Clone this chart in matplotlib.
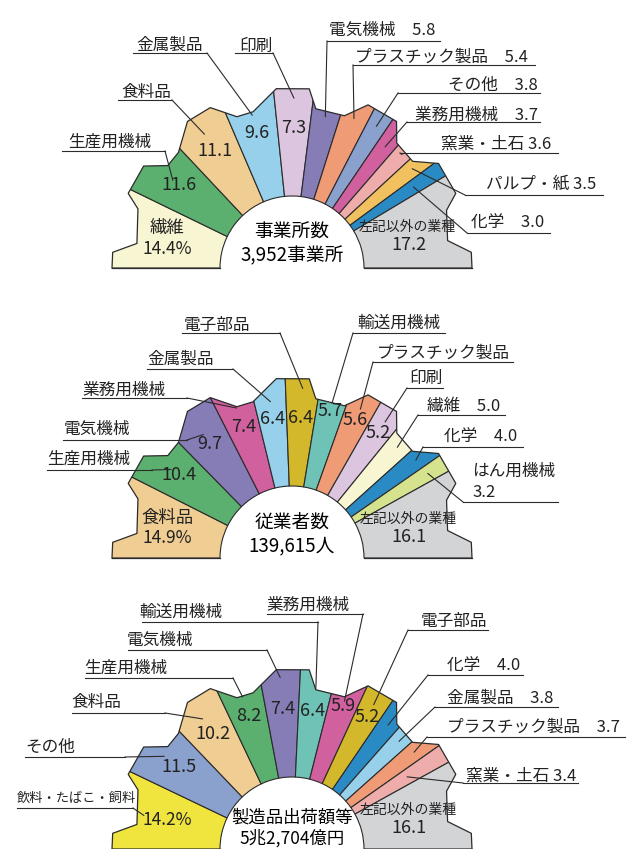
import numpy as np
import matplotlib
matplotlib.use('Agg')
import matplotlib.pyplot as plt
from matplotlib.patches import Wedge, Polygon

plt.rcParams['font.family'] = ['Noto Sans CJK JP', 'DejaVu Sans']

# --- data -----------------------------------------------------------------
c1_names = ['繊維', '生産用機械', '食料品', '金属製品', '印刷', '電気機械',
            'プラスチック製品', 'その他', '業務用機械', '窯業・土石',
            'パルプ・紙', '化学', '左記以外の業種']
c1_vals = [14.4, 11.6, 11.1, 9.6, 7.3, 5.8, 5.4, 3.8, 3.7, 3.6, 3.5, 3.0, 17.2]

c2_names = ['食料品', '生産用機械', '電気機械', '業務用機械', '金属製品',
            '電子部品', '輸送用機械', 'プラスチック製品', '印刷', '繊維',
            '化学', 'はん用機械', '左記以外の業種']
c2_vals = [14.9, 10.4, 9.7, 7.4, 6.4, 6.4, 5.7, 5.6, 5.2, 5.0, 4.0, 3.2, 16.1]

c3_names = ['飲料・たばこ・飼料', 'その他', '食料品', '生産用機械', '電気機械',
            '輸送用機械', '業務用機械', '電子部品', '化学', '金属製品',
            'プラスチック製品', '窯業・土石', '左記以外の業種']
c3_vals = [14.2, 11.5, 10.2, 8.2, 7.4, 6.4, 5.9, 5.2, 4.0, 3.8, 3.7, 3.4, 16.1]

c1_title = ['事業所数', '3,952事業所']
c2_title = ['従業者数', '139,615人']
c3_title = ['製造品出荷額等', '5兆2,704億円']

colors = {
    '繊維': '#f7f5d2', '生産用機械': '#5bb070', '食料品': '#f0cd92',
    '金属製品': '#96d0ea', '印刷': '#dcc5df', '電気機械': '#867cb6',
    'プラスチック製品': '#ee9b76', 'その他': '#8aa0cd', '業務用機械': '#d0609e',
    '窯業・土石': '#eeadaa', 'パルプ・紙': '#f1c160', '化学': '#2a8bc4',
    '左記以外の業種': '#d3d4d6', '電子部品': '#d4b82c', '輸送用機械': '#6ec3b6',
    'はん用機械': '#d6e38e', '飲料・たばこ・飼料': '#f0e43e',
}

# gear shaped outline (angle deg, radius px), same for all three charts
gear = [(180, 180), (175, 180), (171, 157), (159, 165), (155.5, 180),
        (145.5, 180), (140.5, 161), (134.5, 162), (125.5, 180), (117, 180),
        (110, 161), (104, 161), (95, 180), (84.5, 180), (81.5, 161),
        (71, 161), (65, 180), (54.5, 180), (50, 163), (41.5, 161),
        (35.5, 180), (24.5, 180), (20.5, 165), (10, 158), (5, 180), (0, 180)]
R_IN = 72

# label layout: (index, x, y, ha, ux0, ux1, uy, anchor r, side, sep)
c1_labels = [
    (1, 68, 142, 'left', 62, 165, 151, 148, 'L', None),
    (2, 121, 92, 'left', 118, 172, 100, 160, 'L', None),
    (3, 136, 45, 'left', 133, 207, 53, 158, 'L', None),
    (4, 239, 46, 'left', 235, 273, 53, 170, 'L', None),
    (5, 329, 30, 'left', 327, 440, 41, 155, 'R', '\u3000'),
    (6, 355, 57, 'left', 353, 535, 65, 162, 'R', '\u3000'),
    (7, 538, 85, 'right', 398, 540, 93, 165, 'R', '\u3000'),
    (8, 538, 115, 'right', 407, 540, 122, 153, 'R', '\u3000'),
    (9, 441, 144, 'left', 400, 558, 153, 158, 'R', ' '),
    (10, 486, 184, 'left', 465, 603, 195, 156, 'R', ' '),
    (11, 471, 223, 'left', 467, 550, 233, 146, 'R', '\u3000'),
]
c2_labels = [
    (5, 184, 325, 'left', 182, 280, 333, 170, 'L', None),
    (4, 147, 359, 'left', 147, 233, 369, 158, 'L', None),
    (3, 82, 390, 'left', 82, 187, 398, 160, 'L', None),
    (2, 64, 429, 'left', 63, 187, 440, 152, 'L', None),
    (1, 47, 459, 'left', 47, 152, 470, 150, 'L', None),
    (6, 357, 323, 'left', 353, 445, 333, 160, 'R', None),
    (7, 377, 353, 'left', 373, 513, 362, 164, 'R', None),
    (8, 409, 378, 'left', 407, 443, 388, 165, 'R', None),
    (9, 427, 406, 'left', 418, 505, 415, 153, 'R', '\u3000'),
    (10, 444, 437, 'left', 423, 523, 447, 158, 'R', '\u3000'),
    (11, 472, 482, 'left', 463, 558, 502, 160, 'R', '\n'),
]
c3_labels = [
    (0, 17, 798, 'left', 17, 133, 808, 152, 'L', None),
    (1, 25, 747, 'left', 25, 125, 757, 158, 'L', None),
    (2, 71, 703, 'left', 72, 165, 713, 158, 'L', None),
    (3, 84, 668, 'left', 85, 233, 678, 160, 'L', None),
    (4, 127, 640, 'left', 128, 267, 650, 172, 'L', None),
    (5, 139, 612, 'left', 142, 318, 622, 162, 'L', None),
    (6, 266, 605, 'left', 267, 363, 614, 157, 'L', None),
    (7, 421, 621, 'left', 408, 488, 630, 166, 'R', None),
    (8, 447, 666, 'left', 428, 523, 675, 157, 'R', '\u3000'),
    (9, 447, 698, 'left', 435, 558, 707, 152, 'R', '\u3000'),
    (10, 447, 727, 'left', 427, 625, 737, 156, 'R', '\u3000'),
    (11, 466, 776, 'left', 463, 578, 783, 136, 'R', ' '),
]
c1_inside = [1, 2, 3, 4]
c2_inside = [1, 2, 3, 4, 5, 6, 7, 8]
c3_inside = [1, 2, 3, 4, 5, 6, 7]

EDGE = '#2b2b2b'
TXT = '#222222'


def polar(cx, cy, r, a):
    t = np.deg2rad(a)
    return cx + r * np.cos(t), cy - r * np.sin(t)


def draw_chart(ax, cx, cy, names, vals, labels, inside, title, tfs=13.5,
               toff=(36, 12)):
    pts = [polar(cx, cy, r, a) for a, r in gear]
    clip = Polygon(pts, closed=True, transform=ax.transData)

    cum = np.concatenate([[0], np.cumsum(vals)])
    ang = 180 - 1.8 * cum
    for i, name in enumerate(names):
        w = Wedge((cx, cy), 260, -ang[i], -ang[i + 1], width=260 - R_IN,
                  facecolor=colors[name], edgecolor=EDGE, linewidth=0.8)
        ax.add_patch(w)
        w.set_clip_path(clip)

    xs, ys = zip(*pts)
    ax.plot(xs, ys, color=EDGE, lw=0.9)
    ax.plot([cx - 180, cx - R_IN], [cy, cy], color=EDGE, lw=0.9)
    ax.plot([cx + R_IN, cx + 180], [cy, cy], color=EDGE, lw=0.9)

    mid = (ang[:-1] + ang[1:]) / 2

    # values inside the wedges
    for i in inside:
        r = 140 if vals[i] >= 6 else 152
        x, y = polar(cx, cy, r, mid[i])
        ax.text(x, y, f'{vals[i]:.1f}', ha='center', va='center',
                fontsize=13, color=TXT)

    # first and last wedge
    x, y = polar(cx, cy, 130, mid[0])
    first = f'{vals[0]:.1f}%'
    if len(names[0]) <= 3:
        first = names[0] + '\n' + first
    ax.text(x + 2, y, first, ha='center', va='center', fontsize=12.5,
            color=TXT, linespacing=1.2)
    x, y = polar(cx, cy, 122, mid[-1])
    ax.text(x - 2, y - 9, names[-1], ha='center', va='center', fontsize=10,
            color=TXT)
    ax.text(x - 1, y + 10, f'{vals[-1]:.1f}', ha='center', va='center',
            fontsize=13, color=TXT)

    # centre
    ax.text(cx, cy - toff[0], title[0], ha='center', va='center', fontsize=tfs)
    ax.text(cx, cy - toff[1], title[1], ha='center', va='center', fontsize=tfs)

    # outside labels with leaders
    for i, x, y, ha, ux0, ux1, uy, ra, side, sep in labels:
        txt = names[i] if sep is None else names[i] + sep + f'{vals[i]:.1f}'
        fs = 9.5 if '・たばこ' in names[i] else 12
        ax.text(x, y, txt, ha=ha, va='center', fontsize=fs, color=TXT,
                linespacing=1.3)
        ax.plot([ux0, ux1], [uy, uy], color=EDGE, lw=0.8)
        nx = ux1 if side == 'L' else ux0
        axx, ayy = polar(cx, cy, ra, mid[i])
        ax.plot([nx, axx], [uy, ayy], color=EDGE, lw=0.8)


fig = plt.figure(figsize=(6.34, 8.49), dpi=100)
ax = fig.add_axes([0, 0, 1, 1])
ax.set_xlim(0, 634)
ax.set_ylim(849, 0)
ax.axis('off')

draw_chart(ax, 292, 268, c1_names, c1_vals, c1_labels, c1_inside, c1_title)
draw_chart(ax, 292, 558, c2_names, c2_vals, c2_labels, c2_inside, c2_title)
draw_chart(ax, 292, 849, c3_names, c3_vals, c3_labels, c3_inside, c3_title,
           tfs=12.5, toff=(31, 11))

fig.savefig('out.png', dpi=100)
